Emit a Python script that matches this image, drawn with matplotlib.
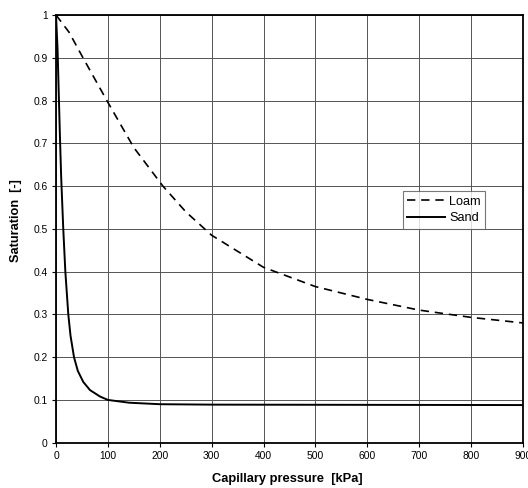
import matplotlib
matplotlib.use("Agg")
import matplotlib.pyplot as plt
from matplotlib.ticker import FuncFormatter

plt.rcParams['font.family'] = ['Liberation Sans', 'DejaVu Sans']

loam_p = [0, 25, 52, 98, 150, 206, 250, 300, 400, 500, 600, 700, 800, 900]
loam_s = [1.0, 0.96, 0.9, 0.8, 0.69, 0.6, 0.54, 0.485, 0.41, 0.365, 0.335, 0.31, 0.293, 0.28]

sand_p = [0, 1.5, 3, 5, 7.5, 10, 14, 18, 23.7, 28, 34.7, 42, 52.6, 65.5, 84.8, 100, 141, 200, 300, 900]
sand_s = [1.0, 0.96, 0.92, 0.83, 0.72, 0.62, 0.5, 0.4, 0.3, 0.25, 0.2, 0.168, 0.142, 0.123, 0.108, 0.1, 0.0935, 0.09, 0.089, 0.088]

x_ticks = [0, 100, 200, 300, 400, 500, 600, 700, 800, 900]
y_ticks = [0, 0.1, 0.2, 0.3, 0.4, 0.5, 0.6, 0.7, 0.8, 0.9, 1.0]

fig = plt.figure(figsize=(5.28, 4.88), dpi=100)
ax = fig.add_axes([56/528, 1-442.7/488, 467/528, 427.7/488])

ax.plot(loam_p, loam_s, color='black', linestyle=(0, (5, 3.5)), linewidth=1.2, label='Loam')
ax.plot(sand_p, sand_s, color='black', linestyle='-', linewidth=1.4, label='Sand')

ax.set_xlim(0, 900)
ax.set_ylim(0, 1)
ax.set_xticks(x_ticks)
ax.set_yticks(y_ticks)
ax.yaxis.set_major_formatter(FuncFormatter(lambda v, p: '%g' % v))
ax.grid(True, color='#555555', linewidth=0.7)
ax.set_axisbelow(True)
for s in ax.spines.values():
    s.set_linewidth(1.3)
ax.tick_params(direction='out', length=3, width=0.8, labelsize=7.4, pad=3)

ax.set_xlabel('Capillary pressure  [kPa]', fontsize=9.3, fontweight='bold')
ax.set_ylabel('Saturation  [-]', fontsize=9.2, fontweight='bold')
ax.xaxis.set_label_coords(0.495, -0.071)
ax.yaxis.set_label_coords(-0.0857, 0.52)
ax.yaxis.label.set_verticalalignment('center')

leg = ax.legend(loc='upper left', bbox_to_anchor=(0.742, 0.588), borderaxespad=0,
                fontsize=9.2, frameon=True, fancybox=False, handlelength=3.0,
                handletextpad=0.3, borderpad=0.35, labelspacing=0.35)
leg.get_frame().set_edgecolor('#555555')
leg.get_frame().set_linewidth(0.8)

fig.savefig('out.png', dpi=100)
